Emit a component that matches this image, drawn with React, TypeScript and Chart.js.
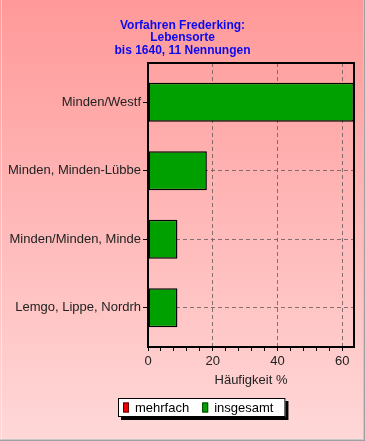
import React, { useEffect, useRef } from "react";
import { Chart, registerables } from "chart.js";

Chart.register(...registerables);

const titleLines = ["Vorfahren Frederking:", "Lebensorte", "bis 1640, 11 Nennungen"];
const categories = ["Minden/Westf", "Minden, Minden-Lübbe", "Minden/Minden, Minde", "Lemgo, Lippe, Nordrh"];
const mehrfach: (number | null)[] = [null, null, null, null];
const insgesamt = [63.64, 18.18, 9.09, 9.09];
const xAxisTitle = "Häufigkeit %";
const seriesNames = ["mehrfach", "insgesamt"];
const seriesColors = ["#ee0000", "#00a000"];
const seriesBorders = ["#600000", "#004000"];
const xTickValues = [0, 4, 8, 12, 16, 20, 24, 28, 32, 36, 40, 44, 48, 52, 56, 60];

const FONT = "Arial, 'Liberation Sans', sans-serif";
const CAT_PAD = 0.573;

const bgPlugin = {
  id: "bgPlugin",
  beforeDraw(chart: any) {
    const { ctx, width, height } = chart;
    ctx.save();
    const g = ctx.createLinearGradient(0, 0, 0, height);
    g.addColorStop(0, "rgb(255,153,153)");
    g.addColorStop(1, "rgb(255,216,216)");
    ctx.fillStyle = g;
    ctx.fillRect(0, 0, width, height);
    ctx.fillStyle = "rgba(255,255,255,0.45)";
    ctx.fillRect(1, 0, 1, height);
    ctx.fillStyle = "#c8c8c8";
    ctx.fillRect(width - 2, 0, 1, height);
    ctx.fillRect(0, height - 2, width, 1);
    ctx.fillStyle = "#a0a0a0";
    ctx.fillRect(width - 1, 0, 1, height);
    ctx.fillRect(0, height - 1, width, 1);
    ctx.restore();
  },
};

const unclipPlugin = {
  id: "unclip",
  afterLayout(chart: any) {
    if (chart.scales.y) chart.scales.y.left = 0;
  },
};

const framePlugin = {
  id: "framePlugin",
  afterDatasetsDraw(chart: any) {
    const { ctx, chartArea: a } = chart;
    ctx.save();
    ctx.strokeStyle = "#000";
    ctx.lineWidth = 2;
    ctx.strokeRect(a.left, a.top, a.right - a.left, a.bottom - a.top);
    ctx.restore();
  },
};

const legendPlugin = {
  id: "boxLegend",
  afterDraw(chart: any) {
    const { ctx } = chart;
    const left = 118;
    const top = 398;
    const h = 19;
    ctx.save();
    ctx.font = `13px ${FONT}`;
    const items = chart.data.datasets.map((d: any, i: number) => ({
      label: d.label,
      color: seriesColors[i],
      border: seriesBorders[i],
    }));
    let x = left + 5;
    const pos: { bx: number; tx: number }[] = [];
    items.forEach((it: any) => {
      const tx = x + 12;
      pos.push({ bx: x, tx });
      x = tx + ctx.measureText(it.label).width + 13;
    });
    const right = x - 13 + 12;
    ctx.fillStyle = "#000";
    ctx.fillRect(left + 3, top + 3, right - left, h);
    ctx.fillStyle = "#fff";
    ctx.fillRect(left, top, right - left, h);
    ctx.strokeStyle = "#000";
    ctx.lineWidth = 1;
    ctx.strokeRect(left + 0.5, top + 0.5, right - left - 1, h - 1);
    const cy = top + h / 2;
    items.forEach((it: any, i: number) => {
      ctx.fillStyle = it.color;
      ctx.fillRect(pos[i].bx, cy - 5, 6, 10);
      ctx.strokeStyle = it.border;
      ctx.strokeRect(pos[i].bx + 0.5, cy - 4.5, 5, 9);
      ctx.fillStyle = "#000";
      ctx.textBaseline = "middle";
      ctx.textAlign = "left";
      ctx.fillText(it.label, pos[i].tx, cy + 1);
    });
    ctx.restore();
  },
};

export default function App() {
  const ref = useRef<HTMLCanvasElement>(null);
  useEffect(() => {
    document.body.style.margin = "0";
    const toPoints = (arr: (number | null)[]) => arr.map((v, i) => ({ x: v, y: i }));
    const chart = new Chart(ref.current as HTMLCanvasElement, {
      type: "bar",
      data: {
        datasets: [
          {
            label: seriesNames[0],
            data: toPoints(mehrfach),
            backgroundColor: seriesColors[0],
            borderColor: "#000",
            borderWidth: 1.5,
            borderSkipped: false,
            grouped: false,
            barPercentage: 0.57,
            categoryPercentage: 1,
          },
          {
            label: seriesNames[1],
            data: toPoints(insgesamt),
            backgroundColor: seriesColors[1],
            borderColor: "#000",
            borderWidth: 1.5,
            borderSkipped: false,
            grouped: false,
            barPercentage: 0.57,
            categoryPercentage: 1,
          },
        ] as any,
      },
      plugins: [bgPlugin, unclipPlugin, framePlugin, legendPlugin],
      options: {
        indexAxis: "y",
        animation: false,
        responsive: false,
        events: [],
        layout: { padding: { left: 11, right: 11, top: 0, bottom: 50 } },
        plugins: {
          legend: { display: false },
          tooltip: { enabled: false },
          title: {
            display: true,
            text: titleLines,
            color: "#0a0af0",
            font: { family: FONT, size: 12, weight: "bold", lineHeight: 12.5 / 12 },
            padding: { top: 19, bottom: 6.5 },
          },
        },
        scales: {
          x: {
            type: "linear",
            min: 0,
            max: Math.max(...insgesamt),
            afterBuildTicks: (scale: any) => {
              scale.ticks = xTickValues.map((v) => ({ value: v }));
            },
            afterFit: (scale: any) => {
              scale.height = 44;
              scale.paddingLeft = 0;
              scale.paddingRight = 0;
            },
            border: { display: false, dash: [4, 3] },
            grid: {
              offset: false,
              color: (c: any) =>
                c.tick && c.tick.value % 20 === 0 && c.tick.value !== 0 ? "rgba(110,95,95,0.85)" : "transparent",
              tickColor: "#000",
              tickLength: 4,
              lineWidth: 1,
            },
            ticks: {
              color: "#222",
              font: { family: FONT, size: 13 },
              padding: 3,
              autoSkip: false,
              maxRotation: 0,
              callback: (v: any) => (Number(v) % 20 === 0 ? String(v) : ""),
            },
            title: {
              display: true,
              text: xAxisTitle,
              color: "#222",
              font: { family: FONT, size: 13 },
              padding: { top: 0, bottom: 3 },
            },
          } as any,
          y: {
            type: "linear",
            reverse: true,
            offset: false,
            min: -CAT_PAD,
            max: categories.length - 1 + CAT_PAD,
            afterBuildTicks: (scale: any) => {
              scale.ticks = categories.map((_, i) => ({ value: i }));
            },
            afterFit: (scale: any) => {
              scale.width = 137;
              scale.paddingTop = 0;
              scale.paddingBottom = 0;
            },
            border: { display: false, dash: [4, 3] },
            grid: {
              offset: false,
              color: "rgba(110,95,95,0.85)",
              tickColor: "#000",
              tickLength: 5,
              lineWidth: 1,
            },
            ticks: {
              color: "#222",
              font: { family: FONT, size: 13 },
              padding: 2,
              autoSkip: false,
              callback: (v: any) => categories[Math.round(Number(v))] ?? "",
            },
          } as any,
        },
      } as any,
    });
    return () => chart.destroy();
  }, []);
  return <canvas ref={ref} width={365} height={441} style={{ display: "block" }} />;
}
